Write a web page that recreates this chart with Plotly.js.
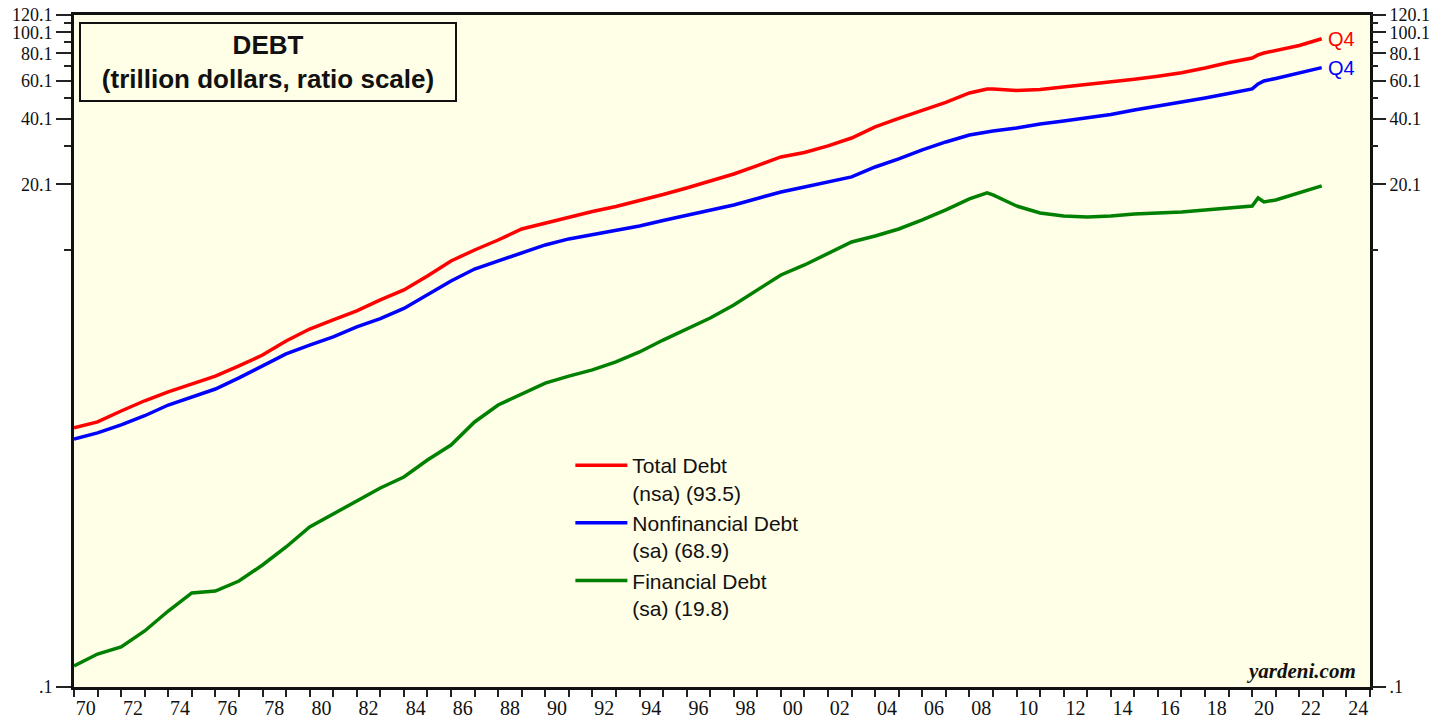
<!DOCTYPE html>
<html>
<head>
<meta charset="utf-8">
<script src="https://cdn.plot.ly/plotly-3.0.1.min.js"></script>
<style>
  html, body { margin: 0; padding: 0; background: #fff; }
  #chart { width: 1451px; height: 721px; }
</style>
</head>
<body>
<div id="chart"></div>
<script>
// quarterly readings, sampled about once a year (decimal years)
const years = [
    1970, 1971, 1972, 1973, 1974, 1975, 1976, 1977, 1978, 1979,
    1980, 1981, 1982, 1983, 1984, 1985, 1986, 1987, 1988, 1989,
    1990, 1991, 1992, 1993, 1994, 1995, 1996, 1997, 1998, 1999,
    2000, 2001, 2002, 2003, 2004, 2005, 2006, 2007, 2008, 2008.75,
    2009, 2010, 2011, 2012, 2013, 2014, 2015, 2016, 2017, 2018,
    2019, 2020, 2020.25, 2020.5, 2021, 2022, 2022.95
];

// trillion dollars
const totalDebt = [
    1.54, 1.64, 1.84, 2.05, 2.25, 2.45, 2.66, 2.96, 3.32, 3.85,
    4.37, 4.81, 5.29, 5.94, 6.60, 7.65, 8.96, 10.06, 11.18, 12.56,
    13.38, 14.26, 15.11, 15.93, 16.93, 18.07, 19.36, 20.78, 22.44, 24.49,
    26.85, 28.16, 30.17, 32.8, 36.86, 40.31, 43.86, 47.73, 52.77, 55.04,
    55.0, 54.17, 54.7, 56.2, 57.4, 59.0, 60.9, 62.9, 65.3, 68.7,
    72.8, 76.3, 78.8, 80.45, 82.6, 87.1, 93.5
];

const nonfinDebt = [
    1.37, 1.46, 1.59, 1.75, 1.96, 2.13, 2.32, 2.61, 2.96, 3.36,
    3.69, 4.02, 4.47, 4.88, 5.43, 6.29, 7.26, 8.23, 8.96, 9.75,
    10.61, 11.31, 11.85, 12.43, 12.96, 13.74, 14.49, 15.35, 16.18, 17.33,
    18.56, 19.56, 20.63, 21.75, 24.16, 26.29, 28.91, 31.46, 33.87, 34.97,
    35.32, 36.47, 38.04, 39.26, 40.53, 42.05, 44.1, 46.0, 47.73, 50.06,
    52.5, 55.04, 58.0, 59.9, 61.5, 65.5, 68.9
];

const finDebt = [
    0.125, 0.1416, 0.1525, 0.1806, 0.223, 0.2697, 0.2754, 0.306, 0.3623, 0.4382,
    0.541, 0.6208, 0.719, 0.8167, 0.917, 1.097, 1.285, 1.639, 1.96, 2.20,
    2.47, 2.66, 2.84, 3.09, 3.43, 3.89, 4.37, 4.91, 5.63, 6.60,
    7.73, 8.59, 9.65, 10.95, 11.67, 12.56, 13.81, 15.35, 17.24, 18.37,
    17.98, 16.01, 14.87, 14.41, 14.26, 14.41, 14.72, 14.87, 15.03, 15.35,
    15.67, 16.01, 17.42, 16.70, 17.06, 18.37, 19.8
];

const seriesNames = [
    'Total Debt<br>(nsa) (93.5)',
    'Nonfinancial Debt<br>(sa) (68.9)',
    'Financial Debt<br>(sa) (19.8)'
];
const seriesColors = ['#ff0000', '#0000ff', '#008000'];

// y tick labels (ratio scale)
const yTickVals = [0.1, 20.1, 40.1, 60.1, 80.1, 100.1, 120.1];
const yTickText = ['.1', '20.1', '40.1', '60.1', '80.1', '100.1', '120.1'];
const yMinorVals = [10.1, 30.1, 50.1, 70.1, 90.1, 110.1];

// x labels sit in the middle of each year
const xLabelYears = [];
for (let y = 1970; y <= 2024; y += 2) xLabelYears.push(y);
const xTickVals = xLabelYears.map(y => y + 0.5);
const xTickText = xLabelYears.map(y => String(y % 100).padStart(2, '0'));
const xMinorVals = [];
for (let y = 1970; y <= 2025; y++) xMinorVals.push(y);

const serif = '"Liberation Serif", "Times New Roman", serif';
const sans = '"Liberation Sans", Arial, sans-serif';

const dataSets = [totalDebt, nonfinDebt, finDebt];
const traces = dataSets.map((vals, i) => ({
    x: years,
    y: vals,
    name: seriesNames[i],
    type: 'scatter',
    mode: 'lines',
    line: { color: seriesColors[i], width: 3.5 },
    hoverinfo: 'x+y'
}));

// invisible copy so the right-hand axis is drawn
traces.push({
    x: years, y: totalDebt, yaxis: 'y2', type: 'scatter', mode: 'lines',
    line: { width: 0 }, opacity: 0, showlegend: false, hoverinfo: 'skip'
});

const yAxisBase = {
    type: 'log',
    range: [Math.log10(0.1), Math.log10(120.1)],
    tickmode: 'array',
    tickvals: yTickVals,
    ticktext: yTickText,
    ticks: 'outside',
    ticklen: 15,
    tickwidth: 2,
    tickcolor: '#222',
    tickfont: { family: serif, size: 18, color: '#111' },
    minor: { tickmode: 'array', tickvals: yMinorVals, ticks: 'outside', ticklen: 7, tickwidth: 2, tickcolor: '#222' },
    showgrid: false,
    zeroline: false,
    fixedrange: true
};

const layout = {
    width: 1451,
    height: 721,
    margin: { l: 74, r: 81, t: 15, b: 34 },
    paper_bgcolor: '#ffffff',
    plot_bgcolor: '#fffee6',
    showlegend: true,
    legend: {
        x: 0.383, y: 0.36, xanchor: 'left', yanchor: 'top',
        bgcolor: 'rgba(0,0,0,0)',
        font: { family: sans, size: 21, color: '#111' },
        valign: 'top',
        itemwidth: 52,
        tracegroupgap: 2
    },
    xaxis: {
        range: [1970, 2025],
        tickmode: 'array',
        tickvals: xTickVals,
        ticktext: xTickText,
        ticks: '',
        tickfont: { family: serif, size: 20, color: '#111' },
        ticklabelstandoff: 1,
        minor: { tickmode: 'array', tickvals: xMinorVals, ticks: 'outside', ticklen: 7, tickwidth: 2, tickcolor: '#222' },
        showline: true,
        linewidth: 3,
        linecolor: '#111',
        mirror: true,
        showgrid: false,
        zeroline: false,
        fixedrange: true
    },
    yaxis: Object.assign({}, yAxisBase, {
        showline: true,
        linewidth: 3,
        linecolor: '#111',
        mirror: true
    }),
    yaxis2: Object.assign({}, yAxisBase, {
        overlaying: 'y',
        side: 'right',
        showline: false
    }),
    annotations: [
        {
            xref: 'paper', yref: 'paper', x: 0.004, y: 0.99,
            xanchor: 'left', yanchor: 'top',
            text: '<b>DEBT</b><br><b>(trillion dollars, ratio scale)</b>',
            showarrow: false,
            align: 'center',
            font: { family: sans, size: 26, color: '#111' },
            bordercolor: '#111', borderwidth: 2, borderpad: 4,
            width: 366, height: 68,
            bgcolor: '#fffee6'
        },
        {
            x: years[years.length - 1], y: Math.log10(totalDebt[totalDebt.length - 1]),
            text: 'Q4', showarrow: false, xanchor: 'left', xshift: 4,
            font: { family: sans, size: 20, color: seriesColors[0] }
        },
        {
            x: years[years.length - 1], y: Math.log10(nonfinDebt[nonfinDebt.length - 1]),
            text: 'Q4', showarrow: false, xanchor: 'left', xshift: 4,
            font: { family: sans, size: 20, color: seriesColors[1] }
        },
        {
            xref: 'paper', yref: 'paper', x: 0.991, y: 0.0,
            xanchor: 'right', yanchor: 'bottom', yshift: 2,
            text: '<b><i>yardeni.com</i></b>', showarrow: false,
            font: { family: serif, size: 21, color: '#111' }
        }
    ]
};

Plotly.newPlot('chart', traces, layout, { displayModeBar: false, staticPlot: true });
</script>
</body>
</html>
